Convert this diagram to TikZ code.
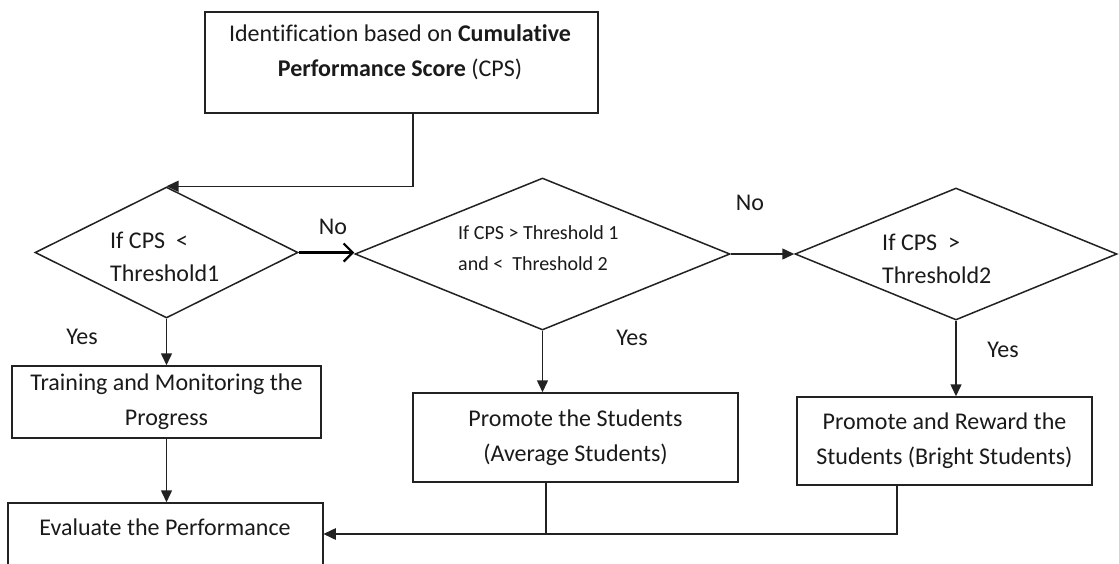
\documentclass[tikz,border=0pt]{standalone}
\usepackage{fontspec}
\setmainfont[Ligatures=NoCommon]{Carlito}
\usetikzlibrary{shapes.geometric,arrows.meta}
\definecolor{ln}{HTML}{222222}
\definecolor{tx}{HTML}{1A1A1A}
\tikzset{
  box/.style={draw=ln, line width=1.5pt, rectangle, inner sep=0pt, align=center, text=tx,
    font=\fontsize{24}{35}\selectfont},
  dia/.style={draw=ln, line width=1.5pt, diamond, inner sep=0pt},
  dtext/.style={inner sep=0pt, align=left, anchor=west, text=tx, font=\fontsize{24}{33}\selectfont},
  lbl/.style={inner sep=0pt, text=tx, font=\fontsize{24}{28}\selectfont},
  arr/.style={draw=ln, line width=1.5pt, -{Triangle[length=12pt,width=11pt]}},
  openarr/.style={draw=black, line width=2.2pt, -{Straight Barb[length=9pt,width=18pt,line width=2.2pt]}},
  plain/.style={draw=ln, line width=1.5pt}
}
\begin{document}
\begin{tikzpicture}[x=1pt,y=-1pt]
\useasboundingbox[fill=white] (0,0) rectangle (1119,563);
\clip (0,0) rectangle (1119,563);
% boxes
\node[box, minimum width=393pt, minimum height=101pt] (top) at (401.5,62.5) {};
\node[lbl, align=center, font=\fontsize{24}{35}\selectfont] (toptext) at (400,52.5)
  {Identification based on \textbf{Cumulative}\\\textbf{Performance Score} (CPS)};
\node[box, minimum width=309pt, minimum height=72pt] (train) at (166.5,402)
  {Training and Monitoring the\\Progress};
\node[box, minimum width=315pt, minimum height=62pt] (eval) at (165.5,534) {};
\node[lbl] (evaltext) at (165,527) {Evaluate the Performance};
\node[box, minimum width=325pt, minimum height=89pt] (avg) at (575.5,437.5)
  {Promote the Students\\(Average Students)};
\node[box, minimum width=295pt, minimum height=88pt] (bright) at (944.5,441)
  {Promote and Reward the\\Students (Bright Students)};
% diamonds
\node[dia, minimum width=263pt, minimum height=131pt] (d1) at (166.5,252.5) {};
\node[dia, minimum width=375pt, minimum height=152pt] (d2) at (542.5,254) {};
\node[dia, minimum width=322pt, minimum height=132pt] (d3) at (956,254) {};
\node[dtext] (d1t) at (110,256.5) {If CPS \ <\\Threshold1};
\node[dtext, font=\fontsize{20}{31}\selectfont] (d2t) at (458,248.5) {If CPS > Threshold 1\\and < \ Threshold 2};
\node[dtext] (d3t) at (882,258.5) {If CPS \ >\\Threshold2};
% labels
\node[lbl] (no1) at (333,227) {No};
\node[lbl] (no2) at (750,203) {No};
\node[lbl] (yes1) at (82,337) {Yes};
\node[lbl] (yes2) at (632,338) {Yes};
\node[lbl] (yes3) at (1003,350) {Yes};
% connectors
\draw[arr] ([xshift=11.5pt]top.south) |- (d1.north);
\draw[openarr] (d1.east) -- (d1.east -| d2.west);
\draw[arr] (d2.east) -- (d3.west);
\draw[arr] (d1.south) -- (d1.south |- train.north);
\draw[arr] (d2.south) -- (d2.south |- avg.north);
\draw[arr] (d3.south) -- (d3.south |- bright.north);
\draw[arr] (train.south) -- (train.south |- eval.north);
\draw[arr] ([xshift=-29.5pt]avg.south) |- (eval.east);
\draw[arr] ([xshift=-47.5pt]bright.south) |- (eval.east);
\end{tikzpicture}
\end{document}
